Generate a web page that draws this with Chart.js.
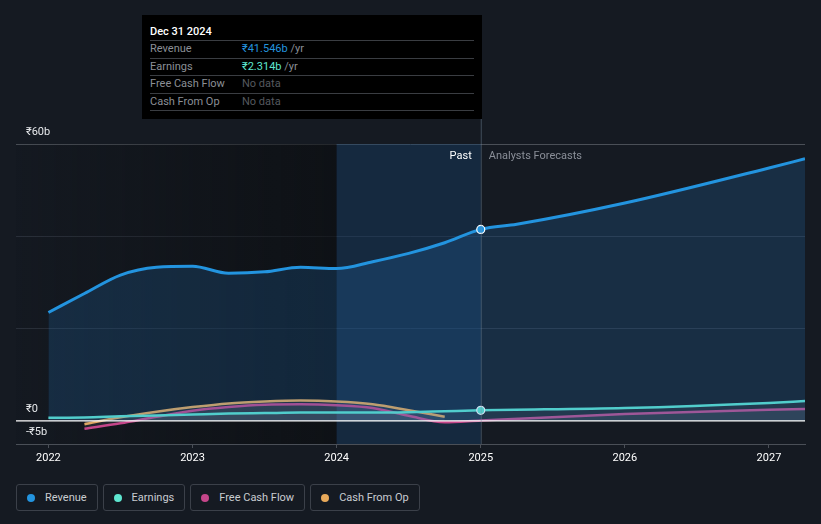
<!DOCTYPE html>
<html>
<head>
<meta charset="utf-8">
<script src="https://cdn.jsdelivr.net/npm/chart.js@4.4.1/dist/chart.umd.min.js"></script>
<style>
  html, body { margin:0; padding:0; background:#151a22; width:821px; height:524px; overflow:hidden; font-family: Roboto, "Noto Sans", sans-serif; }
  #wrap { position:absolute; left:0; top:0; width:821px; height:474px; }
  #tip { position:absolute; left:142px; top:15px; width:340px; height:104px; background:#000; box-sizing:border-box; padding:0 8px; font-size:11px; }
  #tip .hd { color:#fff; font-weight:500; height:25px; line-height:33px; font-size:11px; border-bottom:1px solid #3a3d42; }
  #tip .row { height:16.6px; line-height:16px; border-bottom:1px solid #3a3d42; color:#8b8f96; position:relative; }
  #tip .row span.v { position:absolute; left:92px; }
  #legend { position:absolute; left:16px; top:484px; display:flex; gap:5px; }
  .lg { height:27px; border:1px solid #3b4049; border-radius:3px; box-sizing:border-box; color:#c9ccd1; font-size:11px; display:flex; align-items:center; padding:0 10px 0 10px; }
  .lg i { width:8px; height:8px; border-radius:50%; display:inline-block; margin-right:10px; }
</style>
</head>
<body>
<div id="wrap"><canvas id="c" width="821" height="474"></canvas></div>
<div id="tip">
  <div class="hd">Dec 31 2024</div>
  <div class="row">Revenue<span class="v"><span style="color:#2394df">₹41.546b</span> /yr</span></div>
  <div class="row">Earnings<span class="v"><span style="color:#5ee6d0">₹2.314b</span> /yr</span></div>
  <div class="row">Free Cash Flow<span class="v" style="color:#55595f">No data</span></div>
  <div class="row">Cash From Op<span class="v" style="color:#55595f">No data</span></div>
</div>
<div id="legend"></div>
<script>
// ---- data (₹ billions, x in decimal years) ----
const revenueYears = [2022.0,2022.25,2022.5,2022.75,2023.0,2023.25,2023.5,2023.75,2024.0,2024.25,2024.5,2024.75,2025.0,2025.25,2026.0,2027.0,2027.25];
const revenueValues = [23.5,27.6,31.6,33.3,33.5,32.0,32.3,33.3,33.0,34.5,36.3,38.6,41.5,42.6,47.2,54.8,56.8];
const earningsYears = [2022.0,2022.25,2022.5,2022.75,2023.0,2023.25,2023.5,2023.75,2024.0,2024.25,2024.5,2024.75,2025.0,2026.0,2027.0,2027.25];
const earningsValues = [0.7,0.75,1.0,1.2,1.4,1.6,1.7,1.8,1.8,1.8,1.9,2.1,2.3,2.8,3.9,4.3];
const fcfYears = [2022.25,2022.5,2022.75,2023.0,2023.25,2023.5,2023.75,2024.0,2024.25,2024.5,2024.75,2025.0,2026.0,2027.0,2027.25];
const fcfValues = [-1.7,-0.5,0.9,2.2,3.0,3.5,3.6,3.4,2.8,1.1,-0.3,0.1,1.5,2.4,2.6];
const cfoYears = [2022.25,2022.5,2022.75,2023.0,2023.25,2023.5,2023.75,2024.0,2024.25,2024.5,2024.75];
const cfoValues = [-0.7,0.8,2.0,3.0,3.8,4.2,4.4,4.2,3.6,2.3,0.9];
const yearTicks = [2022,2023,2024,2025,2026,2027];
const yLabels = [{v:60,t:'₹60b'},{v:0,t:'₹0'},{v:-5,t:'-₹5b'}];
const seriesNames = ['Revenue','Earnings','Free Cash Flow','Cash From Op'];
const seriesColors = ['#2394df','#5ee6d0','#c5468a','#e8a95a'];
const pastStart = 2024.0, todayX = 2025.0;

const pts = (xs, ys) => xs.map((x,i)=>({x, y: ys[i]}));

const bgPlugin = {
  id:'bg',
  beforeDatasetsDraw(chart){
    const {ctx, chartArea:a, scales:{x,y}} = chart;
    const xp = x.getPixelForValue(pastStart), xt = x.getPixelForValue(todayX);
    ctx.save();
    const g = ctx.createLinearGradient(a.left,0,xp,0);
    g.addColorStop(0,'rgba(10,12,14,0.05)');
    g.addColorStop(1,'rgba(10,12,14,0.6)');
    ctx.fillStyle = g;
    ctx.fillRect(a.left, a.top, xp-a.left, a.bottom-a.top);
    ctx.fillStyle = 'rgba(20,65,110,0.38)';
    ctx.fillRect(xp, a.top, xt-xp, a.bottom-a.top);
    ctx.restore();
  },
  afterDatasetsDraw(chart){
    const {ctx, chartArea:a, scales:{x,y}} = chart;
    const xt = x.getPixelForValue(todayX);
    ctx.save();
    const y0 = y.getPixelForValue(0);
    ctx.strokeStyle = '#ffffff'; ctx.lineWidth = 1.2;
    ctx.beginPath(); ctx.moveTo(a.left, y0); ctx.lineTo(a.right, y0); ctx.stroke();
    ctx.strokeStyle = 'rgba(120,140,160,0.45)'; ctx.lineWidth = 1;
    ctx.beginPath(); ctx.moveTo(xt+0.5, 119); ctx.lineTo(xt+0.5, a.bottom); ctx.stroke();
    ctx.font = '11px Roboto, sans-serif';
    ctx.textBaseline = 'middle';
    ctx.textAlign = 'right'; ctx.fillStyle = '#ffffff';
    ctx.fillText('Past', xt-9, a.top+12);
    ctx.textAlign = 'left'; ctx.fillStyle = '#8a8f98';
    ctx.fillText('Analysts Forecasts', xt+8, a.top+12);
    ctx.fillStyle = '#e6e8eb'; ctx.textAlign = 'left';
    yLabels.forEach(l => ctx.fillText(l.t, a.left+10, y.getPixelForValue(l.v)-12));
    ctx.restore();
  }
};

const common = { borderWidth: 2.5, pointRadius: 0, cubicInterpolationMode: 'monotone' };
new Chart(document.getElementById('c'), {
  type: 'line',
  data: {
    datasets: [
      { ...common, label: seriesNames[0], data: pts(revenueYears, revenueValues), borderColor: seriesColors[0], borderWidth: 3,
        fill: 'origin', backgroundColor: 'rgba(35,120,190,0.22)',
        pointRadius: ctx => ctx.raw && ctx.raw.x === todayX ? 4 : 0, pointBackgroundColor: seriesColors[0], pointBorderColor: '#fff', pointBorderWidth: 1.2 },
      { ...common, label: seriesNames[1], data: pts(earningsYears, earningsValues), borderColor: seriesColors[1],
        fill: 'origin', backgroundColor: 'rgba(160,170,180,0.10)',
        pointRadius: ctx => ctx.raw && ctx.raw.x === todayX ? 4 : 0, pointBackgroundColor: seriesColors[1], pointBorderColor: '#fff', pointBorderWidth: 1.2 },
      { ...common, label: seriesNames[2], data: pts(fcfYears, fcfValues), borderColor: seriesColors[2],
        fill: 'origin', backgroundColor: 'rgba(160,160,175,0.12)' },
      { ...common, label: seriesNames[3], data: pts(cfoYears, cfoValues), borderColor: seriesColors[3],
        fill: 'origin', backgroundColor: 'rgba(160,160,170,0.12)' }
    ]
  },
  options: {
    responsive: false, animation: false,
    layout: { padding: { left: 16, right: 16, top: 144, bottom: 0 } },
    plugins: { legend: { display: false }, tooltip: { enabled: false } },
    scales: {
      x: { type: 'linear', min: 2021.775, max: 2027.25,
        afterBuildTicks: s => { s.ticks = yearTicks.map(v => ({value: v})); },
        afterFit: s => { s.height = 30; },
        ticks: { color: '#ffffff', font: { family: 'Roboto', size: 11 }, padding: 4, maxRotation: 0, callback: v => String(v) },
        grid: { display: true, drawOnChartArea: false, drawTicks: true, tickLength: 4, color: '#4a4f57' },
        border: { display: true, color: '#4a4f57' } },
      y: { min: -5, max: 60,
        afterBuildTicks: s => { s.ticks = [20,40,60].map(v => ({value: v})); },
        afterFit: s => { s.width = 0; },
        ticks: { display: false },
        grid: { color: ctx => ctx.tick && ctx.tick.value === 60 ? '#4a4f57' : 'rgba(70,78,90,0.45)', drawTicks: false },
        border: { display: false } }
    }
  },
  plugins: [bgPlugin]
});

const lg = document.getElementById('legend');
seriesNames.forEach((n,i) => {
  const d = document.createElement('div'); d.className = 'lg';
  d.innerHTML = '<i style="background:'+seriesColors[i]+'"></i>' + n;
  lg.appendChild(d);
});
</script>
</body>
</html>
